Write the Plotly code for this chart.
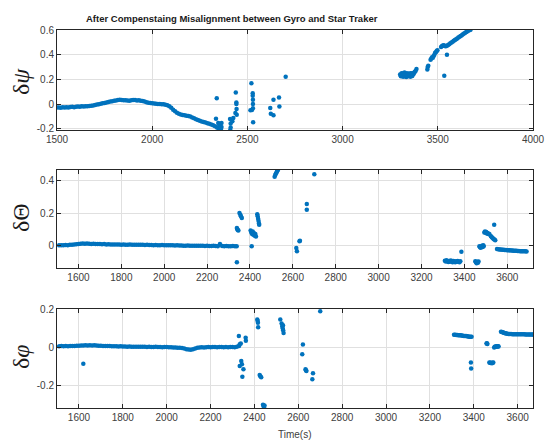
import plotly.graph_objects as go

# ---------------- Panel 1 : delta psi ----------------
p1_band_t = [1500, 1510, 1520, 1530, 1540, 1550, 1560, 1570, 1580, 1590,
             1600, 1610, 1620, 1630, 1640, 1650, 1660, 1670, 1680, 1690,
             1700, 1710, 1720, 1730, 1740, 1750, 1760, 1770, 1780, 1790,
             1800, 1810, 1820, 1830, 1840, 1850, 1860, 1870, 1880, 1890,
             1900, 1910, 1920, 1930, 1940, 1950, 1960, 1970, 1980, 1990,
             2000, 2010, 2020, 2030, 2040, 2050, 2060, 2070, 2080, 2090,
             2100, 2110, 2120, 2130, 2140, 2150, 2160, 2170, 2180, 2190,
             2200, 2210, 2220, 2230, 2240, 2250, 2260, 2270, 2280, 2290,
             2300, 2310, 2320, 2330, 2340, 2350]
p1_band_v = [-0.028, -0.027, -0.029, -0.026, -0.027, -0.025, -0.027, -0.024, -0.022, -0.025,
             -0.021, -0.020, -0.022, -0.018, -0.019, -0.017, -0.018, -0.015, -0.013, -0.012,
             -0.008, -0.004, -0.002, 0.002, 0.006, 0.009, 0.013, 0.016, 0.020, 0.023,
             0.026, 0.029, 0.032, 0.036, 0.034, 0.031, 0.030, 0.028, 0.027, 0.031,
             0.033, 0.032, 0.029, 0.030, 0.026, 0.024, 0.020, 0.014, 0.011, 0.009,
             0.006, 0.004, 0.002, 0.001, 0.000, -0.001, -0.002, -0.005, -0.010, -0.018,
             -0.030, -0.045, -0.058, -0.070, -0.078, -0.084, -0.088, -0.091, -0.094, -0.097,
             -0.101, -0.108, -0.115, -0.123, -0.130, -0.136, -0.141, -0.146, -0.150, -0.155,
             -0.160, -0.166, -0.172, -0.180, -0.190, -0.205]
p1_pts_t = [2339, 2335, 2347, 2352, 2364, 2364, 2361, 2409, 2412, 2412, 2410, 2421, 2426,
            2444, 2439, 2442, 2442, 2443, 2437, 2521, 2528, 2528, 2529, 2529, 2516, 2524,
            2529, 2530, 2620, 2623, 2637, 2637, 2666, 2668, 2701]
p1_pts_v = [0.048, -0.118, -0.153, -0.170, -0.153, -0.185, -0.200, -0.120, -0.157, -0.190,
            -0.210, -0.140, -0.113, -0.086, 0.093, 0.013, 0.000, -0.040, -0.072, 0.169,
            0.088, 0.067, 0.035, 0.000, -0.051, -0.048, -0.033, -0.148, -0.032, -0.078,
            -0.091, 0.035, 0.053, -0.019, 0.222]
p1_late_t = [3302, 3306, 3310, 3312, 3316, 3318, 3322, 3325, 3328, 3331, 3334, 3337, 3340,
             3343, 3346, 3350, 3353, 3356, 3360, 3364, 3368, 3372, 3376, 3380, 3384, 3388,
             3308, 3320, 3335, 3348, 3358, 3366,
             3445, 3447, 3450, 3462, 3466, 3470, 3474, 3478, 3482, 3486, 3490, 3494, 3498,
             3548, 3534,
             3517, 3522, 3527, 3532, 3537, 3542, 3548, 3554, 3560, 3566, 3572, 3578, 3584,
             3590, 3596, 3602, 3608, 3614, 3620, 3626, 3632, 3638, 3644, 3650, 3656, 3662,
             3668, 3672]
p1_late_v = [0.240, 0.225, 0.250, 0.232, 0.245, 0.222, 0.238, 0.255, 0.228, 0.243, 0.220,
             0.250, 0.235, 0.226, 0.248, 0.232, 0.240, 0.222, 0.245, 0.236, 0.250, 0.242,
             0.255, 0.262, 0.270, 0.285,
             0.240, 0.248, 0.232, 0.238, 0.250, 0.228,
             0.280, 0.300, 0.310, 0.360, 0.370, 0.380, 0.375, 0.390, 0.400, 0.415, 0.420,
             0.430, 0.435,
             0.400, 0.230,
             0.462, 0.470, 0.474, 0.476, 0.470, 0.468, 0.472, 0.478, 0.485, 0.492, 0.498,
             0.505, 0.512, 0.519, 0.526, 0.532, 0.539, 0.545, 0.552, 0.558, 0.565, 0.571,
             0.578, 0.584, 0.590, 0.595, 0.600, 0.603]

# ---------------- Panel 2 : delta Theta ----------------
p2_band_t = [1510, 1520, 1530, 1540, 1550, 1560, 1570, 1580, 1590,
             1600, 1610, 1620, 1630, 1640, 1650, 1660, 1670, 1680, 1690,
             1700, 1710, 1720, 1730, 1740, 1750, 1760, 1770, 1780, 1790,
             1800, 1810, 1820, 1830, 1840, 1850, 1860, 1870, 1880, 1890,
             1900, 1910, 1920, 1930, 1940, 1950, 1960, 1970, 1980, 1990,
             2000, 2010, 2020, 2030, 2040, 2050, 2060, 2070, 2080, 2090,
             2100, 2110, 2120, 2130, 2140, 2150, 2160, 2170, 2180, 2190,
             2200, 2210, 2220, 2230, 2240, 2250, 2260, 2270, 2280, 2290,
             2300, 2310, 2320, 2330, 2338]
p2_band_v = [0.000, 0.001, 0.000, 0.002, 0.001, 0.003, 0.004, 0.006, 0.007,
             0.008, 0.010, 0.011, 0.010, 0.011, 0.010, 0.009, 0.010, 0.009, 0.008,
             0.008, 0.007, 0.008, 0.006, 0.007, 0.006, 0.005, 0.006, 0.005, 0.005,
             0.004, 0.005, 0.004, 0.004, 0.005, 0.003, 0.004, 0.003, 0.003, 0.004,
             0.003, 0.002, 0.003, 0.002, 0.002, 0.001, 0.002, 0.001, 0.001, 0.002,
             0.001, 0.000, 0.001, 0.000, 0.000, -0.001, 0.000, -0.001, -0.001, -0.002,
             -0.002, -0.001, -0.002, -0.003, -0.002, -0.003, -0.003, -0.002, -0.003, -0.004,
             -0.003, -0.004, -0.004, -0.003, -0.004, -0.005, 0.008, -0.004, -0.005, -0.004,
             -0.005, -0.005, -0.004, -0.005, -0.005]
p2_pts_t = [2339, 2341, 2343, 2346, 2339, 2351, 2355, 2358, 2362,
            2403, 2406, 2408, 2410, 2413, 2416, 2419, 2422, 2425, 2428,
            2434, 2436, 2438, 2440, 2442, 2443,
            2515, 2518, 2521, 2524, 2527, 2529, 2531,
            2616, 2619, 2631, 2633, 2665, 2665, 2700]
p2_pts_v = [0.107, 0.100, 0.095, 0.092, -0.105, 0.200, 0.190, 0.180, 0.169,
            0.092, 0.080, -0.006, 0.070, 0.085, 0.065, 0.075, 0.060, 0.070, 0.055,
            0.193, 0.180, 0.165, 0.150, 0.135, 0.127,
            0.425, 0.435, 0.445, 0.450, 0.460, 0.465, 0.470,
            -0.016, -0.037, 0.025, 0.028, 0.255, 0.220, 0.440]
p2_late_t = [3309, 3313, 3317, 3321, 3325, 3329, 3333, 3337, 3341, 3345, 3349, 3353,
             3357, 3361, 3365, 3369, 3373, 3377, 3381, 3386,
             3451, 3454, 3457, 3460, 3463, 3466,
             3470, 3473, 3476, 3479, 3482, 3485, 3488, 3490,
             3493, 3496, 3499, 3502, 3505, 3508, 3511, 3514, 3517,
             3539, 3524, 3528, 3532, 3536, 3540, 3544,
             3552, 3558, 3564, 3570, 3576, 3582, 3588, 3594, 3600, 3606, 3612, 3618,
             3624, 3630, 3636, 3642, 3648, 3654, 3660, 3666, 3672, 3678, 3684, 3690]
p2_late_v = [-0.095, -0.100, -0.092, -0.098, -0.103, -0.096, -0.101, -0.094, -0.099,
             -0.104, -0.097, -0.100, -0.105, -0.098, -0.102, -0.096, -0.101, -0.104,
             -0.099, -0.040,
             -0.098, -0.105, -0.110, -0.102, -0.108, -0.100,
             -0.005, -0.012, -0.015, -0.008, -0.002, -0.010, 0.000, -0.006,
             0.080, 0.085, 0.078, 0.082, 0.074, 0.076, 0.070, 0.072, 0.068,
             0.128, 0.056, 0.050, 0.045, 0.040, 0.036, 0.031,
             -0.022, -0.024, -0.025, -0.026, -0.027, -0.027, -0.028, -0.029, -0.030,
             -0.030, -0.031, -0.032, -0.032, -0.033, -0.033, -0.034, -0.035, -0.035,
             -0.036, -0.036, -0.037, -0.037, -0.037, -0.038]

# ---------------- Panel 3 : delta phi ----------------
p3_band_t = p2_band_t
p3_band_v = [0.006, 0.007, 0.006, 0.007, 0.006, 0.007, 0.008, 0.008, 0.009,
             0.009, 0.010, 0.010, 0.011, 0.010, 0.011, 0.010, 0.011, 0.010, 0.009,
             0.009, 0.008, 0.008, 0.007, 0.007, 0.006, 0.006, 0.006, 0.005, 0.006,
             0.005, 0.005, 0.004, 0.005, 0.004, 0.004, 0.003, 0.004, 0.003, 0.003,
             0.003, 0.002, 0.003, 0.002, 0.002, 0.003, 0.002, 0.002, 0.001, 0.002,
             0.002, 0.001, 0.001, 0.000, 0.000, -0.001, -0.001, -0.003, -0.006, -0.009,
             -0.011, -0.012, -0.009, -0.005, -0.002, 0.000, 0.001, 0.000, 0.001, 0.002,
             0.001, 0.002, 0.002, 0.001, 0.002, 0.002, 0.001, 0.002, 0.001, 0.002,
             0.002, 0.001, 0.003, 0.008, 0.020]
p3_pts_t = [1620, 2329, 2333, 2333, 2340, 2343, 2345, 2350, 2360, 2361,
            2413, 2415, 2416, 2417, 2424, 2427, 2431, 2439, 2442, 2444, 2446,
            2518, 2524, 2527, 2529, 2531, 2533, 2530,
            2621, 2618, 2633, 2635, 2637, 2667, 2664, 2700]
p3_pts_v = [-0.085, 0.060, 0.017, -0.097, -0.070, -0.088, -0.153, -0.113, 0.050, 0.035,
            0.145, 0.138, 0.128, 0.105, -0.143, -0.150, -0.155, -0.298, -0.305, -0.310, -0.302,
            0.145, 0.124, 0.110, 0.100, 0.090, 0.075, 0.115,
            0.015, -0.035, -0.114, -0.118, -0.122, -0.134, -0.165, 0.188]
p3_late_t = [3310, 3315, 3320, 3325, 3330, 3335, 3340, 3345, 3350, 3355, 3360, 3365,
             3370, 3375, 3380, 3385, 3390, 3387, 3388,
             3458, 3460, 3462,
             3471, 3474, 3477, 3480, 3483, 3486, 3489,
             3493, 3496, 3499, 3502, 3505, 3508, 3511, 3513,
             3524, 3528, 3532, 3536, 3540, 3544, 3548, 3553,
             3558, 3564, 3570, 3576, 3582, 3588, 3594, 3600, 3606, 3612, 3618, 3624,
             3630, 3636, 3642, 3648, 3654, 3660, 3666, 3670]
p3_late_v = [0.066, 0.066, 0.065, 0.065, 0.064, 0.063, 0.063, 0.062, 0.061, 0.060,
             0.060, 0.059, 0.058, 0.057, 0.056, 0.056, 0.055, -0.078, -0.110,
             0.020, 0.022, 0.018,
             -0.078, -0.080, -0.081, -0.079, -0.082, -0.080, -0.078,
             0.000, 0.003, 0.005, 0.004, 0.006, 0.005, 0.006, 0.005,
             0.082, 0.081, 0.079, 0.077, 0.075, 0.074, 0.072, 0.071,
             0.070, 0.070, 0.070, 0.069, 0.069, 0.069, 0.069, 0.068, 0.068, 0.068,
             0.068, 0.068, 0.068, 0.067, 0.067, 0.067, 0.067, 0.067, 0.067, 0.067]

# ---------------- Axis ranges / ticks ----------------
x1_range = [1500, 4000]
x1_ticks = [1500, 2000, 2500, 3000, 3500, 4000]
x23_ticks = [1600, 1800, 2000, 2200, 2400, 2600, 2800, 3000, 3200, 3400, 3600]
x2_range = [1500, 3720]
x3_range = [1500, 3670]
y1_range = [-0.21, 0.6]
y1_ticks = [-0.2, 0, 0.2, 0.4, 0.6]
y1_text = ["-0.2", "0", "0.2", "0.4", "0.6"]
y2_range = [-0.14, 0.466]
y2_ticks = [0, 0.2, 0.4]
y2_text = ["0", "0.2", "0.4"]
y3_range = [-0.315, 0.2]
y3_ticks = [-0.2, 0, 0.2]
y3_text = ["-0.2", "0", "0.2"]

title_text = "After Compenstaing Misalignment between Gyro and Star Traker"
xlabel_text = "Time(s)"

W, H = 545, 441
BLUE = "#0072BD"

fig = go.Figure()


def add(t, v, xa, ya):
    fig.add_trace(go.Scatter(x=t, y=v, mode="markers", xaxis=xa, yaxis=ya,
                             marker=dict(color=BLUE, size=4.5, line=dict(width=0)),
                             showlegend=False, hoverinfo="skip"))


for t, v in [(p1_band_t, p1_band_v), (p1_pts_t, p1_pts_v), (p1_late_t, p1_late_v)]:
    add(t, v, "x", "y")
for t, v in [(p2_band_t, p2_band_v), (p2_pts_t, p2_pts_v), (p2_late_t, p2_late_v)]:
    add(t, v, "x2", "y2")
for t, v in [(p3_band_t, p3_band_v), (p3_pts_t, p3_pts_v), (p3_late_t, p3_late_v)]:
    add(t, v, "x3", "y3")

tickfont = dict(family="Liberation Sans, Arial, sans-serif", size=10, color="#404040")
common = dict(showline=True, linecolor="#262626", linewidth=1, mirror="ticks",
              ticks="inside", ticklen=4, tickcolor="#262626", tickwidth=1,
              showgrid=True, gridcolor="#e0e0e0", gridwidth=1, zeroline=False,
              tickfont=tickfont, automargin=False, ticklabeloverflow="allow")


def px_x(a, b):
    return [a / W, b / W]


def px_y(top, bottom):
    return [1 - bottom / H, 1 - top / H]


xd = px_x(57, 533)
fig.update_layout(
    width=W, height=H, margin=dict(l=0, r=0, t=0, b=0),
    paper_bgcolor="white", plot_bgcolor="white",
    xaxis=dict(domain=xd, anchor="y", range=x1_range, tickvals=x1_ticks, **common),
    yaxis=dict(domain=px_y(30, 130), anchor="x", range=y1_range, tickvals=y1_ticks,
               ticktext=y1_text, **common),
    xaxis2=dict(domain=xd, anchor="y2", range=x2_range, tickvals=x23_ticks, **common),
    yaxis2=dict(domain=px_y(170, 268), anchor="x2", range=y2_range, tickvals=y2_ticks,
                ticktext=y2_text, **common),
    xaxis3=dict(domain=xd, anchor="y3", range=x3_range, tickvals=x23_ticks, **common),
    yaxis3=dict(domain=px_y(309, 408), anchor="x3", range=y3_range, tickvals=y3_ticks,
                ticktext=y3_text, **common),
)

serif = "Liberation Serif, Times New Roman, serif"
ann = [
    dict(text="<b>" + title_text + "</b>", x=232 / W, y=1 - 18 / H,
         font=dict(family="Liberation Sans, Arial, sans-serif", size=9.5, color="#1a1a1a")),
    dict(text="δ<i>ψ</i>", x=21 / W, y=1 - 82 / H, textangle=-90,
         font=dict(family=serif, size=24, color="#1a1a1a")),
    dict(text="δΘ", x=21 / W, y=1 - 218 / H, textangle=-90,
         font=dict(family=serif, size=24, color="#1a1a1a")),
    dict(text="δ<i>φ</i>", x=21 / W, y=1 - 357 / H, textangle=-90,
         font=dict(family=serif, size=24, color="#1a1a1a")),
    dict(text=xlabel_text, x=295 / W, y=1 - 434 / H,
         font=dict(family="Liberation Sans, Arial, sans-serif", size=10, color="#404040")),
]
for a in ann:
    fig.add_annotation(xref="paper", yref="paper", showarrow=False,
                       xanchor="center", yanchor="middle", **a)

fig.write_html("out.html")
